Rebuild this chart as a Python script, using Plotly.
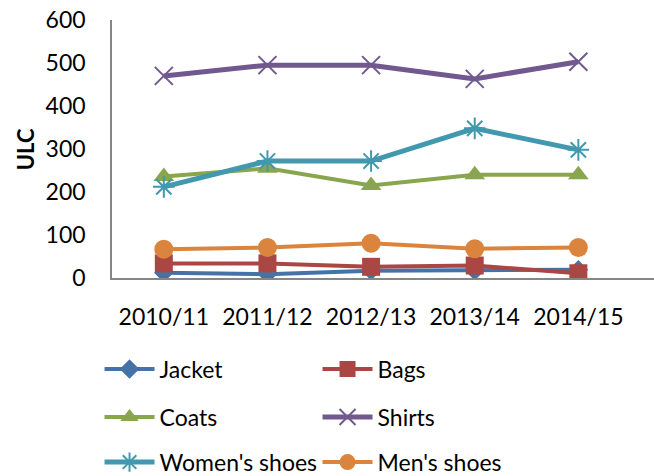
import plotly.graph_objects as go

# Unit labour cost (ULC) by product group and season
seasons = ["2010/11", "2011/12", "2012/13", "2013/14", "2014/15"]

jacket = [12, 9, 17, 17, 19]
bags = [34, 34, 26, 29, 11]
coats = [236, 255, 215, 240, 240]
shirts = [470, 495, 495, 463, 503]
womens_shoes = [212, 272, 272, 348, 298]
mens_shoes = [67, 71, 81, 68, 71]

FONT = "Lato"
AXIS_GREY = "#868686"

series = [
    ("Jacket", jacket, "#4572A7", "diamond", 15, 4, "legend"),
    ("Bags", bags, "#AA4643", "square", 18, 4, "legend"),
    ("Coats", coats, "#89A54E", "triangle-up", 18, 4, "legend2"),
    ("Shirts", shirts, "#71588F", "x-thin-open", 18, 5, "legend2"),
    ("Women's shoes", womens_shoes, "#4198AF", "asterisk-open", 18, 5, "legend3"),
    ("Men's shoes", mens_shoes, "#DB843D", "circle", 19, 4, "legend3"),
]

fig = go.Figure()
for name, vals, color, symbol, size, width, leg in series:
    open_marker = symbol.endswith("open")
    fig.add_trace(go.Scatter(
        x=seasons, y=vals, name=name, mode="lines+markers",
        line=dict(color=color, width=width),
        marker=dict(symbol=symbol, size=size, color=color,
                    line=dict(color=color, width=2 if open_marker else 0)),
        legend=leg,
    ))

legend_common = dict(
    orientation="h", xanchor="left", yanchor="middle",
    font=dict(family=FONT, size=23, color="#000000"),
    entrywidth=153, entrywidthmode="pixels", itemwidth=50,
    bgcolor="rgba(0,0,0,0)", borderwidth=0,
)

fig.update_layout(
    width=654, height=476,
    margin=dict(l=112, r=0, t=20, b=198, autoexpand=False),
    paper_bgcolor="white", plot_bgcolor="white",
    font=dict(family=FONT, size=23, color="#000000"),
    showlegend=True,
    legend=dict(x=-0.023, y=-0.353, **legend_common),
    legend2=dict(x=-0.023, y=-0.539, **legend_common),
    legend3=dict(x=-0.023, y=-0.7135, **legend_common),
    xaxis=dict(
        type="category", range=[-0.5, 4.73],
        showline=True, linecolor=AXIS_GREY, linewidth=1.5,
        showgrid=False, zeroline=False,
        ticks="outside", ticklen=18, tickcolor="rgba(0,0,0,0)",
        tickfont=dict(family=FONT, size=23),
    ),
    yaxis=dict(
        range=[0, 600], dtick=100,
        showline=True, linecolor=AXIS_GREY, linewidth=1.5,
        showgrid=False, zeroline=False,
        ticks="outside", ticklen=20, tickcolor="rgba(0,0,0,0)",
        tickfont=dict(family=FONT, size=23),
    ),
    annotations=[dict(
        text="<b>ULC</b>", textangle=-90,
        xref="paper", yref="paper", x=-0.160, y=0.5,
        xanchor="center", yanchor="middle", showarrow=False,
        font=dict(family=FONT, size=22, color="#000000"),
    )],
)

fig.write_html("out.html")
